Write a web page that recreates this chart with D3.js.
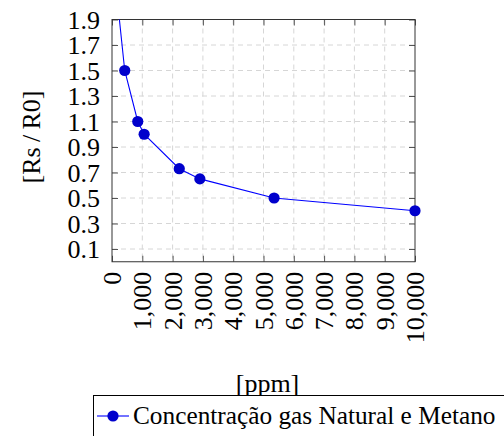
<!DOCTYPE html>
<html>
<head>
<meta charset="utf-8">
<script src="https://cdn.jsdelivr.net/npm/d3@7"></script>
</head>
<body style="margin:0">
<svg id="my_svg"></svg>
<script>
const width = 504;
const height = 436;
const fontFam = 'Liberation Serif';

// data
const ppm = [200, 420, 850, 1060, 2220, 2900, 5350, 10000];
const rsR0 = [2.0, 1.5, 1.1, 1.0, 0.73, 0.65, 0.5, 0.4];
const xTicks = [0, 1000, 2000, 3000, 4000, 5000, 6000, 7000, 8000, 9000, 10000];
const yTicks = [0.1, 0.3, 0.5, 0.7, 0.9, 1.1, 1.3, 1.5, 1.7, 1.9];
const seriesName = 'Concentração gas Natural e Metano';

const plotLeft = 112, plotRight = 415, plotTop = 19.5, plotBottom = 261.75;

const svg = d3.select('#my_svg')
    .attr('width', width)
    .attr('height', height)
    .attr('font-family', fontFam);

const x = d3.scaleLinear().domain([0, 10000]).range([plotLeft, plotRight]);
const y = d3.scaleLinear().domain([0, 1.9]).range([plotBottom, plotTop]);

// grid
const grid_g = svg.append('g').attr('id', 'grid_g');
grid_g.selectAll('.vgrid')
    .data(xTicks.slice(1, -1))
    .enter().append('line')
    .attr('x1', d => x(d)).attr('x2', d => x(d))
    .attr('y1', plotTop).attr('y2', plotBottom)
    .attr('stroke', '#d6d6d6')
    .attr('stroke-dasharray', '5,4');
grid_g.selectAll('.hgrid')
    .data(yTicks)
    .enter().append('line')
    .attr('y1', d => y(d)).attr('y2', d => y(d))
    .attr('x1', plotLeft).attr('x2', plotRight)
    .attr('stroke', '#d6d6d6')
    .attr('stroke-dasharray', '5,4');

// axes (inner ticks on every side)
const xAxis = svg.append('g')
    .attr('transform', `translate(0,${plotBottom})`)
    .call(d3.axisBottom(x).tickValues(xTicks).tickSize(-6).tickFormat(d3.format(',')));
xAxis.selectAll('text')
    .attr('transform', 'rotate(-90)')
    .attr('text-anchor', 'end')
    .attr('x', -10)
    .attr('y', 0)
    .attr('dy', '0.33em');

const yAxis = svg.append('g')
    .attr('transform', `translate(${plotLeft},0)`)
    .call(d3.axisLeft(y).tickValues(yTicks).tickSize(-6).tickFormat(d3.format('.1f')));
yAxis.selectAll('text')
    .attr('x', -12)
    .attr('dy', '0.34em');

svg.append('g')
    .attr('transform', `translate(0,${plotTop})`)
    .call(d3.axisTop(x).tickValues(xTicks).tickSize(-6).tickFormat(''));
svg.append('g')
    .attr('transform', `translate(${plotRight},0)`)
    .call(d3.axisRight(y).tickValues(yTicks).tickSize(-6).tickFormat(''));

// drop d3's default axis font so the serif one is used
svg.selectAll('g').attr('font-family', null).attr('font-size', null);
svg.selectAll('.domain').attr('stroke', 'none');
svg.selectAll('.tick line').attr('stroke', '#555');

svg.append('rect')
    .attr('x', plotLeft).attr('y', plotTop)
    .attr('width', plotRight - plotLeft).attr('height', plotBottom - plotTop)
    .attr('fill', 'none')
    .attr('stroke', '#333');

// series
svg.append('clipPath').attr('id', 'clip')
    .append('rect')
    .attr('x', plotLeft).attr('y', plotTop)
    .attr('width', plotRight - plotLeft).attr('height', plotBottom - plotTop);

const pts = ppm.map((p, i) => ({ p: p, v: rsR0[i] }));
const line = d3.line().x(d => x(d.p)).y(d => y(d.v));

const plot_g = svg.append('g').attr('clip-path', 'url(#clip)');
plot_g.append('path')
    .datum(pts)
    .attr('d', line)
    .attr('fill', 'none')
    .attr('stroke', '#0000ff')
    .attr('stroke-width', 1.1);

svg.append('g')
    .selectAll('circle')
    .data(pts.filter(d => d.v <= 1.9))
    .enter().append('circle')
    .attr('cx', d => x(d.p))
    .attr('cy', d => y(d.v))
    .attr('r', 5.6)
    .attr('fill', '#0000cc');

// axis labels
svg.append('text')
    .attr('x', (plotLeft + plotRight) / 2 + 4)
    .attr('y', 392)
    .attr('text-anchor', 'middle')
    .text('[ppm]');

svg.append('text')
    .attr('transform', `translate(40,137) rotate(-90)`)
    .attr('text-anchor', 'middle')
    .text('[Rs\u2009/\u2009R0]');

// every text so far: serif, 26px, black
svg.selectAll('text')
    .attr('font-family', fontFam)
    .attr('font-size', 26)
    .attr('fill', '#000');

// legend
const legend = svg.append('g');
legend.append('rect')
    .attr('x', 93.5).attr('y', 395.5)
    .attr('width', 430).attr('height', 60)
    .attr('fill', '#fff')
    .attr('stroke', '#000');
legend.append('line')
    .attr('x1', 97).attr('x2', 129)
    .attr('y1', 416).attr('y2', 416)
    .attr('stroke', '#0000ff')
    .attr('stroke-width', 1.1);
legend.append('circle')
    .attr('cx', 113).attr('cy', 416)
    .attr('r', 5.6)
    .attr('fill', '#0000cc');
legend.append('text')
    .attr('x', 133)
    .attr('y', 424)
    .attr('font-family', fontFam)
    .attr('font-size', 25.3)
    .attr('fill', '#000')
    .text(seriesName);
</script>
</body>
</html>
